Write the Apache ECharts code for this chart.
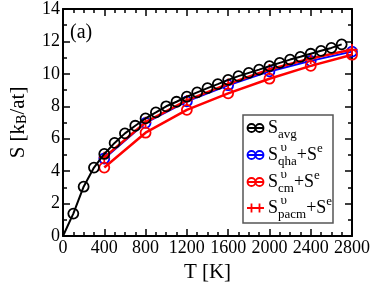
<!DOCTYPE html>
<html><head><meta charset="utf-8">
<script src="https://cdn.jsdelivr.net/npm/echarts@6/dist/echarts.min.js"></script>
<style>html,body{margin:0;padding:0;background:#fff}#c{width:374px;height:288px}</style>
</head><body><div id="c"></div>
<script>
const tAvg = [0,100,200,300,400,500,600,700,800,900,1000,1100,1200,1300,1400,1500,1600,1700,1800,1900,2000,2100,2200,2300,2400,2500,2600,2700];
const sAvg = [0,1.38,3.04,4.22,5.06,5.74,6.33,6.8,7.25,7.62,8.0,8.28,8.59,8.86,9.12,9.37,9.63,9.86,10.06,10.26,10.48,10.68,10.88,11.05,11.24,11.42,11.6,11.82];
const tCoarse = [400,800,1200,1600,2000,2400,2800];
const sQha = [4.78,6.98,8.3,9.3,10.15,10.8,11.37];
const sCm = [4.22,6.37,7.78,8.8,9.7,10.49,11.18];
const sPacm = [4.85,7.02,8.36,9.38,10.27,10.95,11.5];
const xTicks = {min:0, max:2800, interval:400};
const yTicks = {min:0, max:14, interval:2};

const FONT = '"Liberation Serif", "DejaVu Serif", serif';
const chart = echarts.init(document.getElementById('c'), null, {renderer:'canvas'});
const pair = (xs, ys) => xs.map((x,i) => [x, ys[i]]);
const avgData = pair(tAvg, sAvg).map((p,i) => i===0 ? {value:p, symbol:'none'} : p);
const plus = 'path://M0,4.2 L10,4.2 L10,5.8 L0,5.8 Z M4.2,0 L5.8,0 L5.8,10 L4.2,10 Z';

function common(){
  return {
    axisLine:{show:true, onZero:false, lineStyle:{color:'#000', width:2}},
    axisTick:{show:true, inside:true, length:7, lineStyle:{color:'#000', width:1.5}},
    splitLine:{show:false}
  };
}
function xAx(pos, labels){
  return Object.assign(common(), {
    type:'value', position:pos, min:xTicks.min, max:xTicks.max, interval:xTicks.interval,
    minorTick:{show:true, splitNumber:4, length:4, lineStyle:{color:'#000', width:1.5}},
    axisLabel:{show:labels, color:'#000', fontFamily:FONT, fontSize:18, margin:3, interval:0, hideOverlap:false, formatter:v => String(v)},
    name: labels ? 'T [K]' : '', nameLocation:'middle', nameGap:26,
    nameTextStyle:{color:'#000', fontFamily:FONT, fontSize:21}
  });
}
function yAx(pos, labels){
  return Object.assign(common(), {
    type:'value', position:pos, min:yTicks.min, max:yTicks.max, interval:yTicks.interval,
    minorTick:{show:true, splitNumber:2, length:4, lineStyle:{color:'#000', width:1.5}},
    axisLabel:{show:labels, color:'#000', fontFamily:FONT, fontSize:18, margin:3, formatter:v => String(v)},
    name: labels ? 'S [k{sub|B}/at]' : '', nameLocation:'middle', nameGap:34,
    nameTextStyle:{color:'#000', fontFamily:FONT, fontSize:21,
      rich:{sub:{fontFamily:FONT, fontSize:14, verticalAlign:'bottom', lineHeight:10, color:'#000'}}}
  });
}

// legend built from graphic elements
const legRows = [
  {y:128, color:'#000', sym:'circle', main:'S', sub:'avg', up:''},
  {y:155, color:'#0000ff', sym:'circle', main:'S', sub:'qha', up:'υ', tail:true},
  {y:182, color:'#ff0000', sym:'circle', main:'S', sub:'cm', up:'υ', tail:true},
  {y:208, color:'#ff0000', sym:'plus', main:'S', sub:'pacm', up:'υ', tail:true}
];
const g = [{type:'rect', shape:{x:243, y:115, width:90, height:108}, style:{fill:'#fff', stroke:'#555', lineWidth:1.5}, z:10}];
const rich = {
  m:{fontFamily:FONT, fontSize:18, lineHeight:26, color:'#000', verticalAlign:'middle'},
  s:{fontFamily:FONT, fontSize:13, lineHeight:12, color:'#000', verticalAlign:'bottom'},
  u:{fontFamily:FONT, fontSize:13, lineHeight:12, color:'#000', verticalAlign:'top'}
};
legRows.forEach(r => {
  g.push({type:'line', shape:{x1:247, y1:r.y, x2:264, y2:r.y}, style:{stroke:r.color, lineWidth:2}, z:11});
  [251.5, 259.5].forEach(cx => {
    if (r.sym==='circle') g.push({type:'circle', shape:{cx:cx, cy:r.y, r:4}, style:{fill:'none', stroke:r.color, lineWidth:1.8}, z:11});
    else g.push({type:'line', shape:{x1:cx, y1:r.y-4.5, x2:cx, y2:r.y+4.5}, style:{stroke:r.color, lineWidth:1.8}, z:11});
  });
  const txt = '{m|' + r.main + '}{s|' + r.sub + '}' + (r.tail ? '{m|+S}{u|e}' : '');
  g.push({type:'text', x:268, y:r.y, style:{text:txt, rich:rich, verticalAlign:'middle', align:'left'}, z:11});
  if (r.up) g.push({type:'text', x:280.5, y:r.y-7, style:{text:r.up, fontFamily:FONT, fontSize:13, fill:'#000', verticalAlign:'middle', align:'left'}, z:11});
});
g.push({type:'text', x:70, y:33, style:{text:'(a)', fontFamily:FONT, fontSize:20, fill:'#000', verticalAlign:'middle', align:'left'}, z:11});

const circleSeries = (name, data, color, z) => ({
  name, type:'line', data, xAxisIndex:0, yAxisIndex:0, z,
  symbol:'circle', symbolSize:10, showSymbol:true,
  lineStyle:{color, width:2}, itemStyle:{color:'rgba(0,0,0,0)', borderColor:color, borderWidth:1.8, opacity:1},
  emphasis:{disabled:true}, animation:false
});
const avgS = circleSeries('avg', avgData, '#000', 5);
const qhaS = circleSeries('qha', pair(tCoarse, sQha), '#0000ff', 2);
const cmS = circleSeries('cm', pair(tCoarse, sCm), '#ff0000', 3);
cmS.lineStyle.width = 2.5;
const pacmS = {
  name:'pacm', type:'line', data:pair(tCoarse, sPacm), z:4,
  symbol:plus, symbolSize:11, lineStyle:{color:'#ff0000', width:2.5},
  itemStyle:{color:'#ff0000'}, emphasis:{disabled:true}, animation:false
};

chart.setOption({
  animation:false,
  grid:{left:55, right:22, top:7, bottom:43, containLabel:false},
  xAxis:[xAx('bottom', true), xAx('top', false)],
  yAxis:[yAx('left', true), yAx('right', false)],
  series:[qhaS, cmS, pacmS, avgS],
  graphic:g
});
</script></body></html>
